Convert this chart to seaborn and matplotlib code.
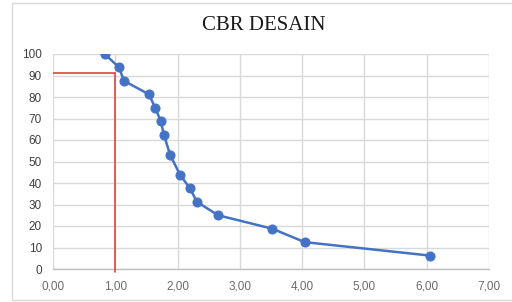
import matplotlib
matplotlib.use("Agg")
import matplotlib.pyplot as plt
import seaborn as sns
import pandas as pd
from matplotlib.patches import Rectangle
from matplotlib.ticker import FuncFormatter, MultipleLocator

cbr = [0.83, 1.06, 1.14, 1.54, 1.64, 1.73, 1.78, 1.88, 1.88, 2.04, 2.20, 2.31, 2.65, 3.52, 4.04, 6.05]
percent = [100, 93.75, 87.5, 81.25, 75, 68.75, 62.5, 56.25, 50, 43.75, 37.5, 31.25, 25, 18.75, 12.5, 6.25]
design_cbr = 1.0
design_percent = 91
title = "CBR DESAIN"

df = pd.DataFrame({"cbr": cbr, "percent": percent})

sns.set_theme(style="white")
plt.rcParams['font.family'] = ['Liberation Sans', 'DejaVu Sans']

fig = plt.figure(figsize=(5.12, 3.02), dpi=100)
ax = fig.add_axes([53/512, 1 - 269/302, (489-53)/512, (269-54)/302])

# outer chart border
fig.patches.append(Rectangle((12/512, 2/302), 1.0, 297/302, transform=fig.transFigure,
                             fill=False, edgecolor="#D9D9D9", linewidth=1.0, zorder=0))

ax.set_xlim(0, 7)
ax.set_ylim(0, 100)
ax.xaxis.set_major_locator(MultipleLocator(1))
ax.yaxis.set_major_locator(MultipleLocator(10))
ax.xaxis.set_major_formatter(FuncFormatter(lambda v, p: f"{v:.2f}".replace(".", ",")))
ax.grid(True, color="#D9D9D9", linewidth=1.0)
ax.set_axisbelow(True)
for s in ["top", "right", "left"]:
    ax.spines[s].set_visible(False)
ax.spines["bottom"].set_color("#BFBFBF")
ax.spines["bottom"].set_linewidth(1.0)

# design lines
ax.plot([0, design_cbr], [design_percent, design_percent], color="#D9473F", linewidth=1.2, zorder=3)
ax.plot([design_cbr, design_cbr], [design_percent, -1.5], color="#D9473F", linewidth=1.2,
        zorder=3, clip_on=False)

sns.lineplot(data=df, x="cbr", y="percent", sort=False, ax=ax, color="#4472C4",
             linewidth=1.8, marker="o", markersize=6.5, markeredgecolor="#4472C4", zorder=4)

ax.set_xlabel("")
ax.set_ylabel("")
ax.tick_params(axis="x", labelsize=8.5, labelcolor="#6b6b6b", length=0, pad=8)
ax.tick_params(axis="y", labelsize=8.5, labelcolor="#404040", length=0, pad=8)

fig.text(264/512, 1 - 25/302, title, ha="center", va="center", fontsize=15,
         family=["Liberation Serif", "DejaVu Serif"], color="#1a1a1a")

fig.savefig("out.png", dpi=100)
